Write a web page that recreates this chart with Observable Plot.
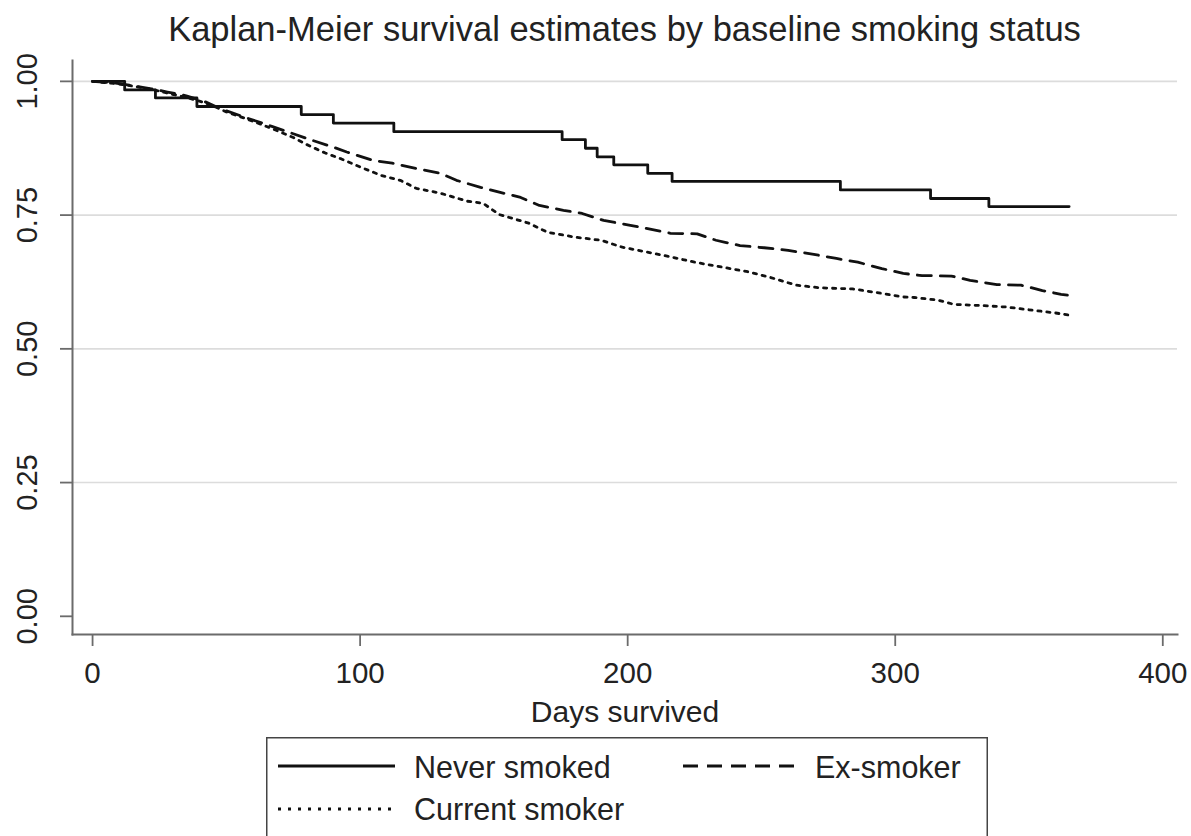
<!DOCTYPE html>
<html>
<head>
<meta charset="utf-8">
<script src="https://cdn.jsdelivr.net/npm/d3@7"></script>
<script src="https://cdn.jsdelivr.net/npm/@observablehq/plot@0.6"></script>
<style>
  body { margin: 0; background: #fff; font-family: "Liberation Sans", Arial, sans-serif; }
  #wrap { position: relative; width: 1191px; height: 836px; overflow: hidden; background: #fff; }
  #title { position: absolute; left: 72px; width: 1105px; top: 12px; text-align: center;
           font-size: 34.5px; line-height: 34px; color: #222; white-space: nowrap; }
  #chart { position: absolute; left: 0; top: 0; }
  #legend { position: absolute; left: 266px; top: 737px; }
</style>
</head>
<body>
<div id="wrap">
  <div id="title"></div>
  <div id="chart"></div>
  <div id="legend"></div>
</div>
<script>
const titleText = "Kaplan-Meier survival estimates by baseline smoking status";
const xLabel = "Days survived";
const seriesNames = ["Never smoked", "Ex-smoker", "Current smoker"];
const xTicks = [0, 100, 200, 300, 400];
const yTicks = [0, 0.25, 0.5, 0.75, 1];
const gridTicks = [0.25, 0.5, 0.75, 1];

// Never smoked (step function)
const neverDays = [0, 12, 23.5, 39, 78, 90, 112.6, 175.5, 184.2, 188.6, 194.8, 207.5, 216.6, 279.5, 313.2, 335, 365];
const neverSurv = [1.000, 0.984, 0.969, 0.953, 0.938, 0.922, 0.906, 0.891, 0.875, 0.859, 0.844, 0.828, 0.813, 0.797, 0.781, 0.766, 0.766];

// Ex-smoker
const exDays = [0, 8, 14, 22, 28, 35, 42, 46, 50, 58, 67, 75, 82, 90, 95, 105, 112, 121, 130, 136, 145, 152, 160, 167, 176, 183, 191, 201, 207, 216, 226, 233, 242, 251, 260, 269, 278, 286, 295, 303, 310, 321, 328, 338, 347, 355, 362, 365];
const exSurv = [1.000, 0.997, 0.993, 0.986, 0.980, 0.973, 0.962, 0.953, 0.945, 0.931, 0.916, 0.902, 0.890, 0.877, 0.868, 0.852, 0.847, 0.837, 0.828, 0.815, 0.802, 0.793, 0.783, 0.768, 0.759, 0.753, 0.740, 0.731, 0.725, 0.716, 0.715, 0.703, 0.693, 0.689, 0.684, 0.677, 0.669, 0.662, 0.650, 0.641, 0.637, 0.636, 0.628, 0.620, 0.619, 0.609, 0.602, 0.600];

// Current smoker
const curDays = [0, 8, 14, 22, 28, 35, 42, 46, 50, 58, 67, 75, 80, 87, 93, 100, 108, 115, 121, 130, 140, 146, 152, 163, 170, 180, 190, 198, 207, 216, 225, 235, 245, 253, 263, 272, 284, 292, 303, 307, 316, 322, 332, 342, 350, 360, 365];
const curSurv = [1.000, 0.996, 0.992, 0.985, 0.978, 0.970, 0.960, 0.952, 0.943, 0.929, 0.912, 0.895, 0.882, 0.866, 0.855, 0.840, 0.824, 0.815, 0.800, 0.791, 0.776, 0.772, 0.751, 0.735, 0.718, 0.709, 0.703, 0.690, 0.681, 0.672, 0.662, 0.653, 0.644, 0.634, 0.619, 0.614, 0.612, 0.606, 0.597, 0.596, 0.591, 0.583, 0.581, 0.578, 0.573, 0.567, 0.563];

const dashes = [null, "14,9", "3.2,5.8"];
const legendDashes = [null, "15,9", "3,7"];

function rows(days, surv, name) { return days.map((d, i) => ({day: d, surv: surv[i], group: name})); }
const never = rows(neverDays, neverSurv, seriesNames[0]);
const ex = rows(exDays, exSurv, seriesNames[1]);
const cur = rows(curDays, curSurv, seriesNames[2]);

document.getElementById("title").textContent = titleText;

const axisColor = "#6b6b6b";
const lineColor = "#111";

const chart = Plot.plot({
  width: 1191,
  height: 735,
  marginLeft: 72,
  marginRight: 14,
  marginTop: 60,
  marginBottom: 101,
  style: { fontFamily: "'Liberation Sans', Arial, sans-serif", fontSize: "29px", color: "#222", background: "transparent" },
  x: { domain: [-7.5, 405.5] },
  y: { domain: [-0.034, 1.039] },
  marks: [
    Plot.ruleY(gridTicks, { stroke: "#dcdcdc", strokeWidth: 1.6 }),
    Plot.line(never, { x: "day", y: "surv", curve: "step-after", stroke: lineColor, strokeWidth: 2.8 }),
    Plot.line(ex, { x: "day", y: "surv", curve: "linear", stroke: lineColor, strokeWidth: 2.8, strokeDasharray: dashes[1] }),
    Plot.line(cur, { x: "day", y: "surv", curve: "linear", stroke: lineColor, strokeWidth: 2.8, strokeDasharray: dashes[2] }),
    Plot.axisY(yTicks, { anchor: "left", tickFormat: d3.format(".2f"), tickRotate: -90, tickSize: 12, tickPadding: 24, stroke: axisColor, strokeWidth: 1.8, fontSize: 29, fill: "#222", label: null }),
    Plot.axisX(xTicks, { anchor: "bottom", tickFormat: d3.format("d"), tickSize: 12, tickPadding: 16, stroke: axisColor, strokeWidth: 1.8, fontSize: 29.5, fill: "#222", label: null }),
    Plot.frame({ anchor: "left", stroke: axisColor, strokeWidth: 2 }),
    Plot.frame({ anchor: "bottom", stroke: axisColor, strokeWidth: 2 }),
    Plot.text([xLabel], { text: d => d, frameAnchor: "bottom", lineAnchor: "bottom", dy: 87, fontSize: 30, fill: "#222" })
  ]
});
document.getElementById("chart").appendChild(chart);

// Legend
const lw = 722, lh = 110;
const leg = d3.select("#legend").append("svg").attr("width", lw).attr("height", lh)
  .style("font-family", "'Liberation Sans', Arial, sans-serif");
leg.append("rect").attr("x", 0.75).attr("y", 0.75).attr("width", lw - 1.5).attr("height", lh + 10)
  .attr("fill", "#fff").attr("stroke", "#444").attr("stroke-width", 1.5);
const legPos = [
  { x: 12, y: 29, tx: 148, ty: 41 },
  { x: 417, y: 29, tx: 549, ty: 41 },
  { x: 12, y: 72, tx: 148, ty: 83 }
];
seriesNames.forEach((name, i) => {
  const p = legPos[i];
  leg.append("line").attr("x1", p.x).attr("x2", p.x + 117).attr("y1", p.y).attr("y2", p.y)
    .attr("stroke", lineColor).attr("stroke-width", 2.8)
    .attr("stroke-dasharray", legendDashes[i]);
  leg.append("text").attr("x", p.tx).attr("y", p.ty).attr("font-size", 30.5).attr("fill", "#222").text(name);
});
</script>
</body>
</html>
